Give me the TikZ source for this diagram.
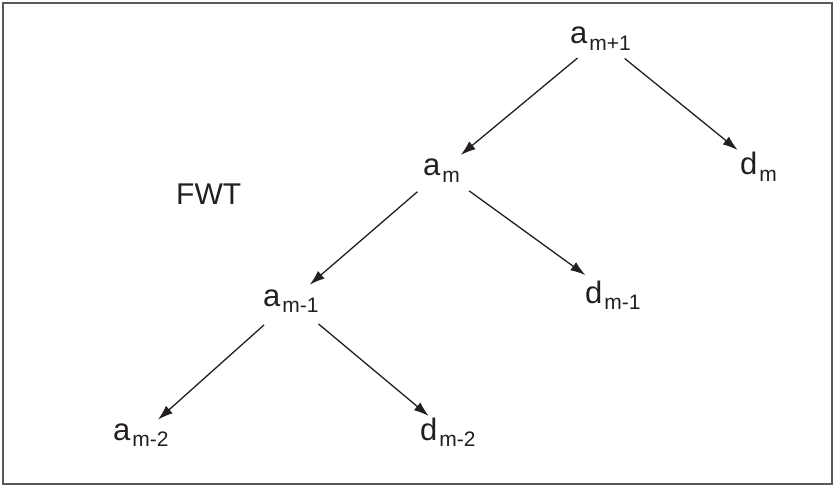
\documentclass[tikz,border=0pt]{standalone}
\usepackage{fontspec}
\setmainfont{Liberation Sans}
\usetikzlibrary{arrows.meta}
\newcommand\lbsub[2]{#1\hspace{2pt}\raisebox{-6.5pt}{\fontsize{21}{21}\selectfont #2}}
\definecolor{ink}{HTML}{231F20}
\begin{document}
\begin{tikzpicture}[x=1pt,y=-1pt,
  lbl/.style={anchor=base west,inner sep=0pt,text=ink,font=\fontsize{31}{31}\selectfont},
  arr/.style={draw=ink,line width=1.3pt,-{Latex[length=15pt,width=10pt]}}]
\useasboundingbox (0,0) rectangle (835,486);
\draw[draw=black!65,line width=1.4pt] (3,3) rectangle (832,484);
\node[lbl] (amp1) at (570,44) {\lbsub{a}{m+1}};
\node[lbl] (am)   at (423,176) {\lbsub{a}{m}};
\node[lbl] (dm)   at (740,175) {\lbsub{d}{m}};
\node[lbl] (amm1) at (263,306) {\lbsub{a}{m-1}};
\node[lbl] (dmm1) at (585,303) {\lbsub{d}{m-1}};
\node[lbl] (amm2) at (113,440) {\lbsub{a}{m-2}};
\node[lbl] (dmm2) at (420,440) {\lbsub{d}{m-2}};
\node[lbl,font=\fontsize{30}{30}\selectfont] (fwt) at (176,205) {FWT};
\draw[arr,shorten <=30pt,shorten >=25pt] (amp1.center) -- (am.center);
\draw[arr,shorten <=31pt,shorten >=27pt] (amp1.center) -- (dm.center);
\draw[arr,shorten <=32pt,shorten >=25pt] (am.center) -- (amm1.center);
\draw[arr,shorten <=34pt,shorten >=34pt] (am.center) -- (dmm1.center);
\draw[arr,shorten <=36pt,shorten >=23pt] (amm1.center) -- (amm2.center);
\draw[arr,shorten <=36pt,shorten >=25pt] (amm1.center) -- (dmm2.center);
\end{tikzpicture}
\end{document}
